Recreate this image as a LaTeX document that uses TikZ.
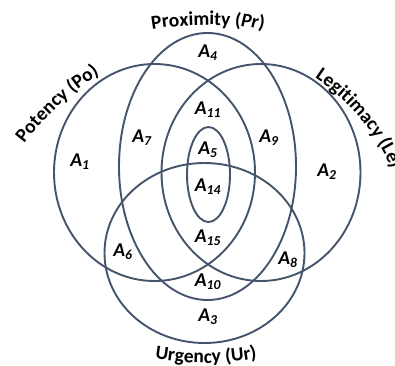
\documentclass[tikz,border=0pt]{standalone}
\usepackage{fontspec}
\setmainfont{Carlito}
\usetikzlibrary{decorations.text}
\definecolor{ln}{RGB}{68,84,106}
\newcommand\ttlfont{\fontsize{19.5}{21}\selectfont\bfseries}
\begin{document}
\begin{tikzpicture}[x=1pt,y=1pt,
  ring/.style={draw=ln, line width=1.9pt},
  lab/.style={font=\fontsize{19.5}{20}\selectfont\bfseries\itshape, inner sep=0pt},
  title/.style={decorate, decoration={text along path, text align=center, text={#1}}}]
\useasboundingbox (0,0) rectangle (395,365);
% sets
\coordinate (cPo) at (154.5,192.5);
\coordinate (cLe) at (261,192.5);
\coordinate (cPr) at (207.5,198.5);
\coordinate (cUr) at (204.5,112);
\coordinate (cIn) at (208.5,190.5);
\draw[ring] (cPo) ellipse [x radius=100.5, y radius=108.5];
\draw[ring] (cLe) ellipse [x radius=99.5, y radius=108.5];
\draw[ring] (cPr) ellipse [x radius=88.5, y radius=133.5];
\draw[ring] (cUr) ellipse [x radius=100, y radius=90];
\draw[ring] (cIn) ellipse [x radius=21.5, y radius=47.5];
% titles
\path[title={|\ttlfont|Potency (Po)}] (261.2,37.8) ++(147.4:300) arc[start angle=147.4, end angle=117.4, radius=300];
\path[title={|\ttlfont|Proximity (|\ttlfont\itshape|Pr|\ttlfont\upshape|)}] (208,-10) ++(105:350) arc[start angle=105, end angle=75, radius=350];
\path[title={|\ttlfont|Legitimacy (Le)}] (199,112) ++(65:210) arc[start angle=65, end angle=15, radius=210];
\path[title={|\ttlfont|Urgency (Ur)}] (206,302) ++(255:300) arc[start angle=255, end angle=285, radius=300];
% region labels
\node[lab] (a1)  at (80,203)  {A\textsubscript{1}};
\node[lab] (a7)  at (142,227) {A\textsubscript{7}};
\node[lab] (a4)  at (208,312) {A\textsubscript{4}};
\node[lab] (a11) at (208,255) {A\textsubscript{11}};
\node[lab] (a9)  at (269,227) {A\textsubscript{9}};
\node[lab] (a2)  at (327,193) {A\textsubscript{2}};
\node[lab] (a5)  at (208,215) {A\textsubscript{5}};
\node[lab] (a14) at (208,178) {A\textsubscript{14}};
\node[lab] (a15) at (208,127) {A\textsubscript{15}};
\node[lab] (a6)  at (123,113) {A\textsubscript{6}};
\node[lab] (a8)  at (288,105) {A\textsubscript{8}};
\node[lab] (a10) at (208,83)  {A\textsubscript{10}};
\node[lab] (a3)  at (208,48)  {A\textsubscript{3}};
\end{tikzpicture}
\end{document}
